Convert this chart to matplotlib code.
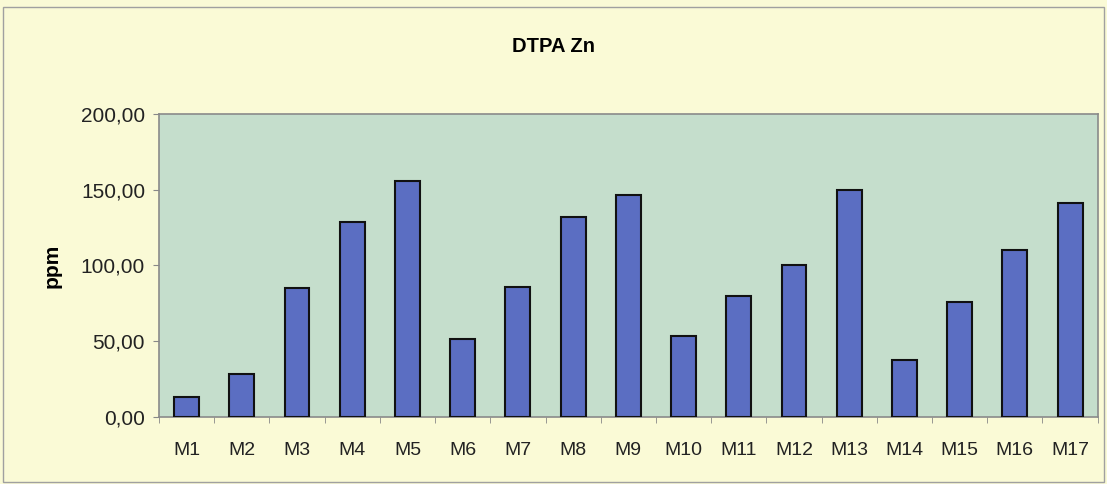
import matplotlib
matplotlib.use("Agg")
import matplotlib.pyplot as plt
from matplotlib.patches import Rectangle
from matplotlib.ticker import FuncFormatter, FixedLocator

# data
samples = ["M1", "M2", "M3", "M4", "M5", "M6", "M7", "M8", "M9",
           "M10", "M11", "M12", "M13", "M14", "M15", "M16", "M17"]
zn_ppm = [12.8, 28.3, 85.2, 128.7, 155.6, 51.2, 85.6, 132.0, 146.4,
          53.6, 80.1, 100.0, 150.1, 37.5, 75.7, 110.0, 141.5]
y_ticks = [0, 50, 100, 150, 200]

plt.rcParams['font.family'] = ['Liberation Sans', 'DejaVu Sans']

fig = plt.figure(figsize=(11.07, 4.84), dpi=100)
fig.patch.set_facecolor('#fafad6')
# outer chart frame
fig.patches.append(Rectangle((0.003, 0.005), 0.994, 0.98, transform=fig.transFigure,
                             fill=False, edgecolor='#a0a0a0', linewidth=1.0))

ax = fig.add_axes([0.1436, 0.139, 0.848, 0.625])
ax.set_facecolor('#c5decc')

x = range(len(samples))
ax.bar(x, zn_ppm, width=0.45, color='#5b6ec2', edgecolor='#111111', linewidth=1.5, zorder=3)

ax.set_xlim(-0.5, len(samples) - 0.5)
ax.set_ylim(0, 200)
ax.set_yticks(y_ticks)
ax.yaxis.set_major_formatter(FuncFormatter(lambda v, p: f"{v:.2f}".replace(".", ",")))
ax.set_xticks(list(x))
ax.set_xticklabels(samples)
ax.xaxis.set_minor_locator(FixedLocator([i - 0.5 for i in range(len(samples) + 1)]))
ax.tick_params(axis='x', which='major', length=0, labelsize=14, pad=18, colors='#222222')
ax.tick_params(axis='x', which='minor', length=4, color='#888888')
ax.tick_params(axis='y', length=4, color='#888888', labelsize=15, pad=6, colors='#222222')

for s in ax.spines.values():
    s.set_color('#8a8a8a')
    s.set_linewidth(1.2)

ax.set_ylabel("ppm", fontsize=15, fontweight='bold', labelpad=14)
fig.text(0.5, 0.903, "DTPA Zn", ha='center', va='center', fontsize=14.5, fontweight='bold')

plt.savefig("out.png", dpi=100, facecolor=fig.get_facecolor())
